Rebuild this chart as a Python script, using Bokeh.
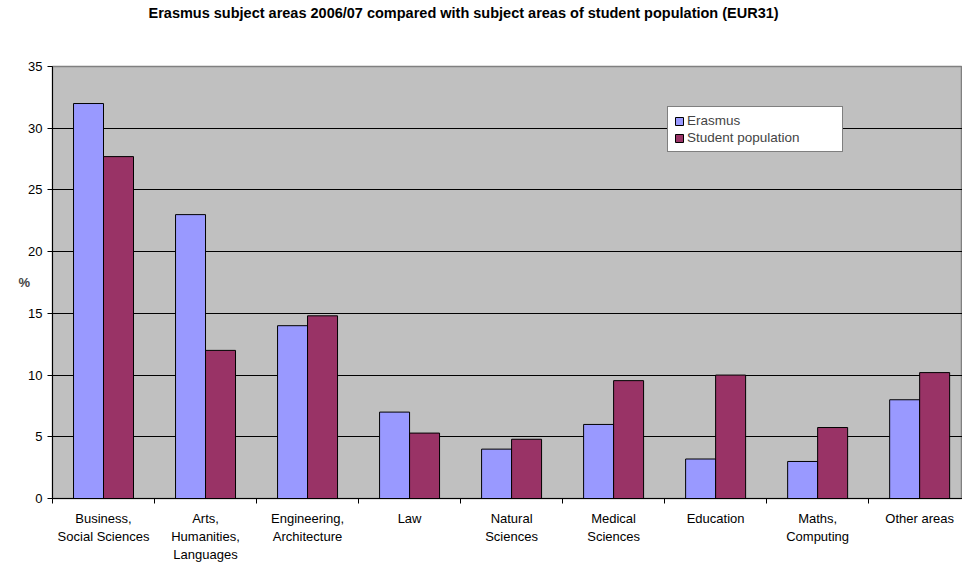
import numpy as np
from bokeh.plotting import figure
from bokeh.models import ColumnDataSource, FixedTicker, Range1d, Legend, LegendItem, Title
from bokeh.transform import dodge
from bokeh.embed import file_html
from bokeh.resources import INLINE

categories = ["Business,\nSocial Sciences", "Arts,\nHumanities,\nLanguages",
              "Engineering,\nArchitecture", "Law", "Natural\nSciences",
              "Medical\nSciences", "Education", "Maths,\nComputing", "Other areas"]
erasmus = [32.0, 23.0, 14.0, 7.0, 4.0, 6.0, 3.2, 3.0, 8.0]
student = [27.7, 12.0, 14.8, 5.3, 4.8, 9.55, 10.0, 5.75, 10.2]
y_ticks = [0, 5, 10, 15, 20, 25, 30, 35]
series_names = ["Erasmus", "Student population"]
series_colors = ["#9999FF", "#993366"]
title_text = "Erasmus subject areas 2006/07 compared with subject areas of student population (EUR31)"

n = len(categories)
centers = np.arange(n) + 0.5
src = ColumnDataSource(dict(x=centers, erasmus=erasmus, student=student))

FONT = "Liberation Sans"

p = figure(width=962, height=564, output_backend="svg", toolbar_location=None, title=None,
           x_range=Range1d(0, 8.92), y_range=Range1d(0, 35),
           min_border_left=52, min_border_right=0, min_border_top=66, min_border_bottom=60)

p.background_fill_color = "#C0C0C0"
p.border_fill_color = "white"
p.outline_line_color = "#808080"
p.outline_line_width = 1.5

bw = 0.294
r1 = p.vbar(x=dodge("x", -bw / 2), top="erasmus", width=bw, source=src,
            fill_color=series_colors[0], line_color="black", line_width=1)
r2 = p.vbar(x=dodge("x", bw / 2), top="student", width=bw, source=src,
            fill_color=series_colors[1], line_color="black", line_width=1)

# spacer between frame and title, then the title itself (stacked outward)
p.add_layout(Title(text=" ", text_font_size="1px", standoff=43), "above")
p.add_layout(Title(text=title_text, text_font=FONT, text_font_size="14.5px",
                   text_font_style="bold", align="left", offset=96, standoff=0,
                   text_color="black"), "above")

# x axis
xa = p.xaxis[0]
xa.ticker = FixedTicker(ticks=list(centers), minor_ticks=list(np.arange(n + 1)))
xa.major_label_overrides = {float(c): lab for c, lab in zip(centers, categories)}
xa.major_tick_out = 0
xa.major_tick_in = 0
xa.minor_tick_out = 5
xa.minor_tick_in = 0
xa.minor_tick_line_color = "black"
xa.axis_line_color = "black"
xa.major_label_text_font = FONT
xa.major_label_text_font_size = "13px"
xa.major_label_standoff = 7
xa.major_label_text_color = "black"

# y axis
ya = p.yaxis[0]
ya.ticker = FixedTicker(ticks=y_ticks)
ya.minor_tick_line_color = None
ya.major_tick_out = 5
ya.major_tick_in = 0
ya.major_tick_line_color = "black"
ya.axis_line_color = "black"
ya.major_label_text_font = FONT
ya.major_label_text_font_size = "13px"
ya.major_label_standoff = 5
ya.major_label_text_color = "black"
ya.axis_label = "%"
ya.axis_label_orientation = "horizontal"
ya.axis_label_text_font = FONT
ya.axis_label_text_font_size = "13px"
ya.axis_label_text_font_style = "bold"
ya.axis_label_standoff = -5

p.xgrid.grid_line_color = None
p.ygrid.ticker = FixedTicker(ticks=y_ticks[1:-1])
p.ygrid.grid_line_color = "black"
p.ygrid.grid_line_width = 1

legend = Legend(items=[LegendItem(label=series_names[0], renderers=[r1]),
                       LegendItem(label=series_names[1], renderers=[r2])],
                location=(615, 346))
legend.label_text_font = FONT
legend.label_text_font_size = "13.5px"
legend.glyph_width = 10
legend.glyph_height = 10
legend.label_standoff = 3
legend.label_height = 15
legend.label_width = 149
legend.spacing = 2
legend.padding = 6
legend.margin = 0
legend.border_line_color = "black"
legend.border_line_width = 1
legend.background_fill_color = "white"
legend.background_fill_alpha = 1
p.add_layout(legend, "center")

open("out.html", "w").write(file_html(p, INLINE))
